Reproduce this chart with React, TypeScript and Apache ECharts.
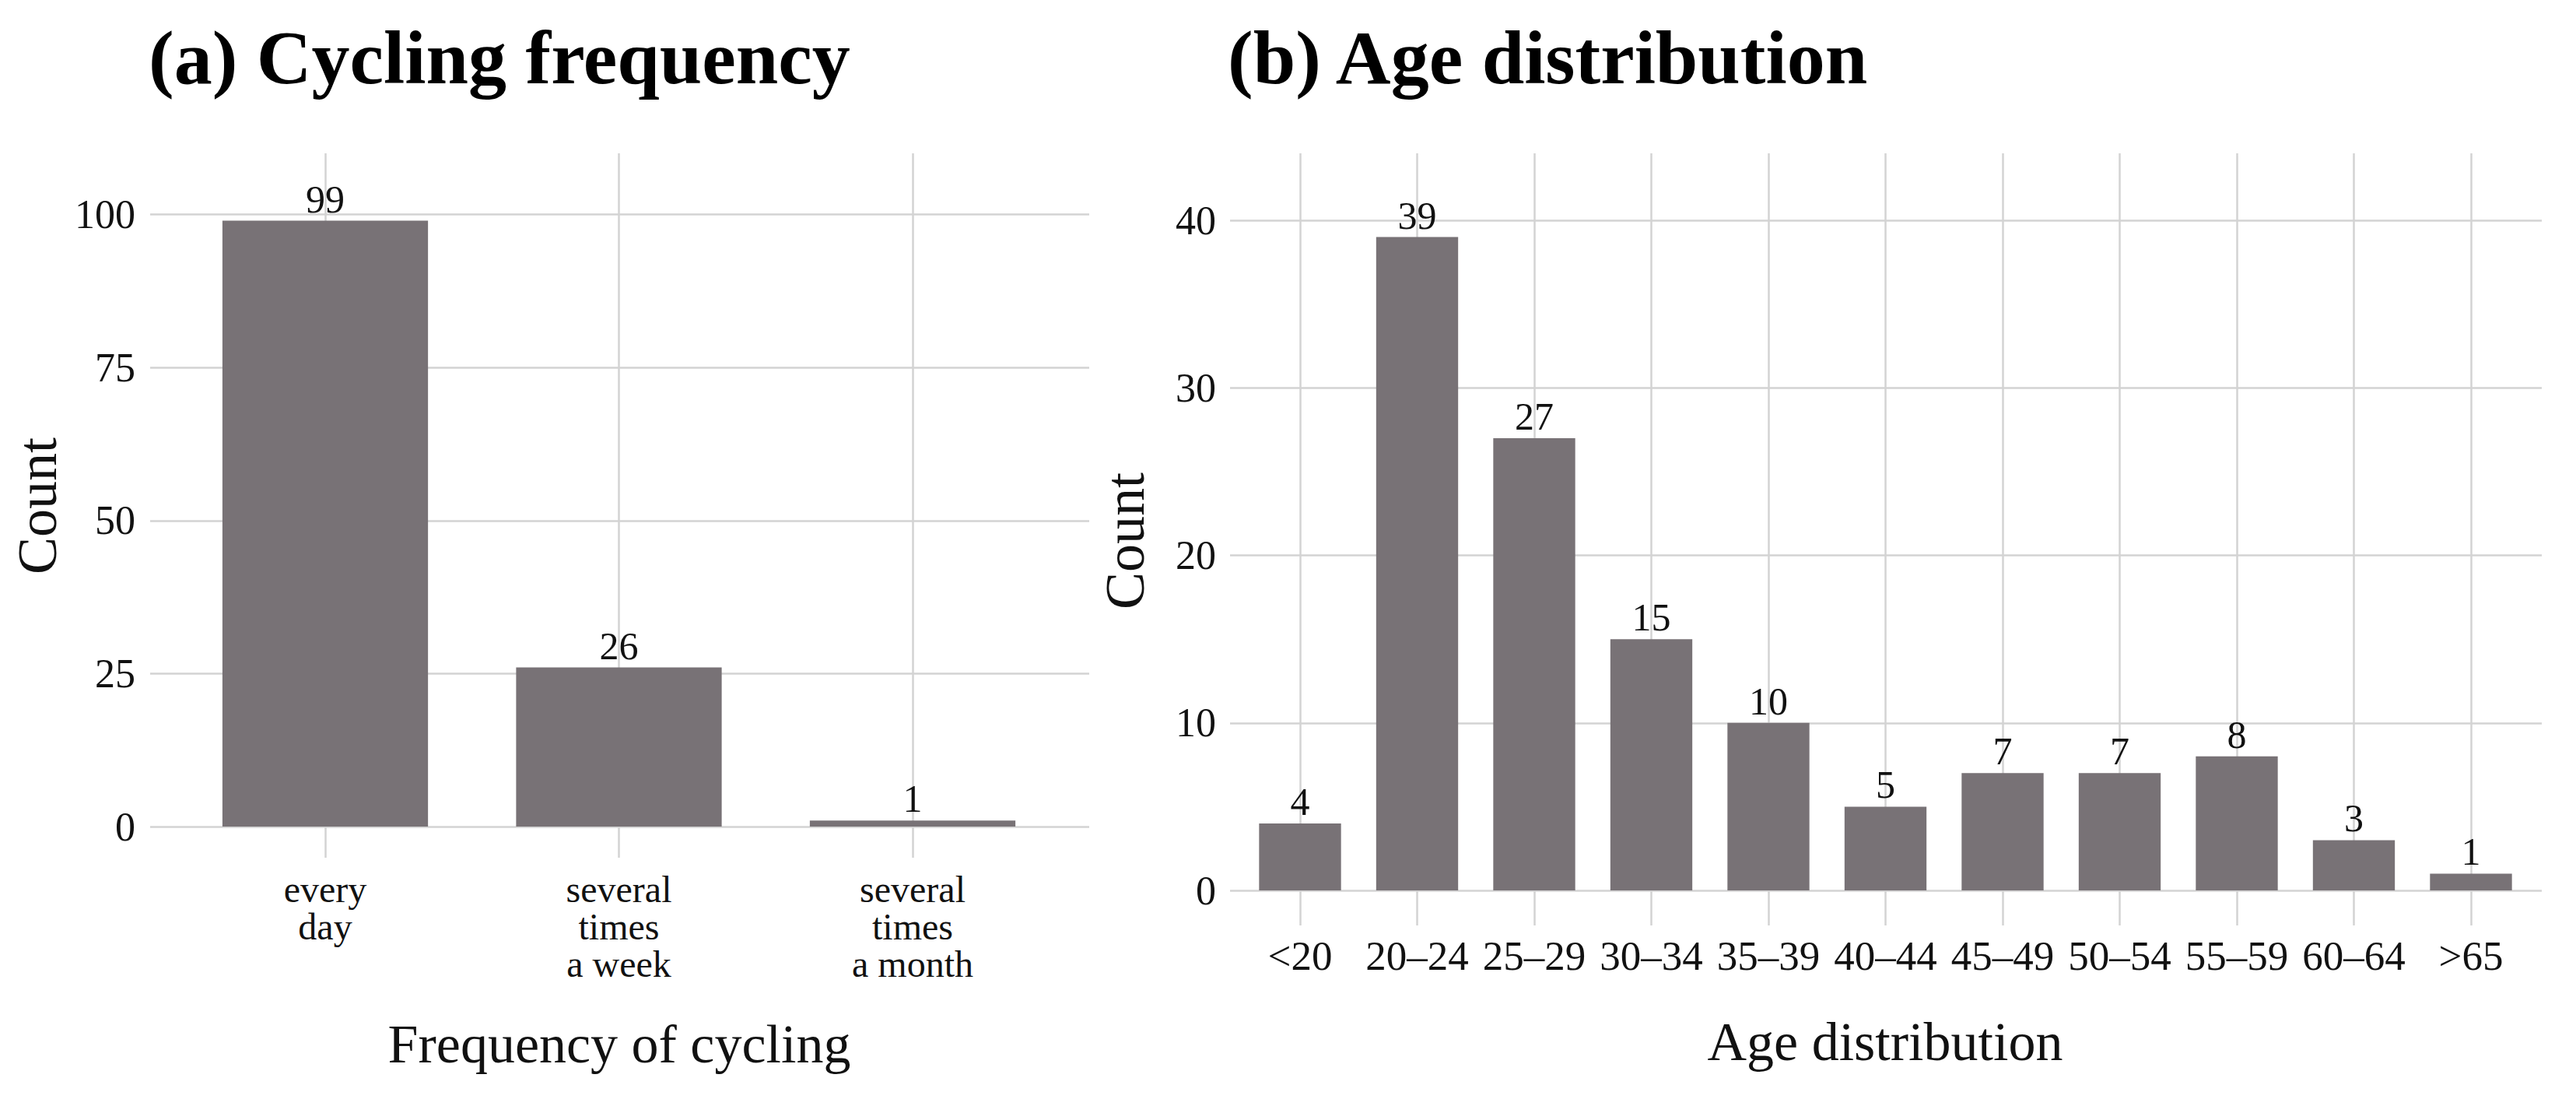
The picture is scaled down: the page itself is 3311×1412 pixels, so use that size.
import React, { useEffect, useRef } from 'react';
import * as echarts from 'echarts';

// ---- data ----
const freqCategories = ['every\nday', 'several\ntimes\na week', 'several\ntimes\na month'];
const freqCounts = [99, 26, 1];
const ageCategories = ['<20', '20–24', '25–29', '30–34', '35–39', '40–44', '45–49', '50–54', '55–59', '60–64', '>65'];
const ageCounts = [4, 39, 27, 15, 10, 5, 7, 7, 8, 3, 1];
const freqAxisMax = 110;
const freqTickStep = 25;
const ageAxisMax = 44;
const ageTickStep = 10;
const panelTitles = ['(a) Cycling frequency', '(b) Age distribution'];
const xTitles = ['Frequency of cycling', 'Age distribution'];
const yTitle = 'Count';

const FONT = '"Liberation Serif", "Times New Roman", serif';
const TEXT = '#111111';
const GRID = '#d3d3d3';
const BAR = '#787276';

export default function App() {
  const ref = useRef<HTMLDivElement>(null);

  useEffect(() => {
    if (!ref.current) return;
    const chart = echarts.init(ref.current, null, { renderer: 'svg' });

    const gridLine = { color: GRID, width: 2.5 };
    const valueLabel = { fontSize: 52, color: TEXT, fontFamily: FONT };

    const option: any = {
      animation: false,
      backgroundColor: '#ffffff',
      grid: [
        { left: 193, top: 197, width: 1207, height: 865 },
        { left: 418, top: 197, width: 755, height: 865 },
        { left: 1581, top: 197, width: 1686, height: 947 },
        { left: 1671, top: 197, width: 1505, height: 947 },
      ],
      xAxis: [
        { gridIndex: 0, type: 'value', min: 0, max: 1, show: false },
        {
          gridIndex: 1,
          type: 'category',
          data: freqCategories,
          boundaryGap: false,
          axisLine: { show: false },
          axisTick: { show: true, length: 40, interval: 0, lineStyle: gridLine },
          axisLabel: { ...valueLabel, fontSize: 48, lineHeight: 48, margin: 56, interval: 0 },
          splitLine: { show: true, interval: 0, lineStyle: gridLine },
        },
        { gridIndex: 2, type: 'value', min: 0, max: 1, show: false },
        {
          gridIndex: 3,
          type: 'category',
          data: ageCategories,
          boundaryGap: false,
          axisLine: { show: false },
          axisTick: { show: true, length: 45, interval: 0, lineStyle: gridLine },
          axisLabel: { ...valueLabel, fontSize: 53, lineHeight: 44, margin: 62, interval: 0 },
          splitLine: { show: true, interval: 0, lineStyle: gridLine },
        },
      ],
      yAxis: [
        {
          gridIndex: 0,
          type: 'value',
          min: 0,
          max: freqAxisMax,
          interval: freqTickStep,
          axisLine: { show: false },
          axisTick: { show: false },
          axisLabel: { ...valueLabel, margin: 19, showMaxLabel: false },
          splitLine: { show: true, showMaxLine: false, lineStyle: gridLine },
        },
        { gridIndex: 1, type: 'value', min: 0, max: freqAxisMax, show: false },
        {
          gridIndex: 2,
          type: 'value',
          min: 0,
          max: ageAxisMax,
          interval: ageTickStep,
          axisLine: { show: false },
          axisTick: { show: false },
          axisLabel: { ...valueLabel, margin: 18, showMaxLabel: false },
          splitLine: { show: true, showMaxLine: false, lineStyle: gridLine },
        },
        { gridIndex: 3, type: 'value', min: 0, max: ageAxisMax, show: false },
      ],
      series: [
        {
          type: 'bar',
          xAxisIndex: 1,
          yAxisIndex: 1,
          data: freqCounts,
          barWidth: '70%',
          clip: false,
          itemStyle: { color: BAR },
          label: { show: true, position: 'top', distance: 3, fontSize: 50, color: TEXT, fontFamily: FONT },
        },
        {
          type: 'bar',
          xAxisIndex: 3,
          yAxisIndex: 3,
          data: ageCounts,
          barWidth: '70%',
          clip: false,
          itemStyle: { color: BAR },
          label: { show: true, position: 'top', distance: 3, fontSize: 50, color: TEXT, fontFamily: FONT },
        },
      ],
      graphic: [
        {
          type: 'text', x: 191, y: 74,
          style: { text: panelTitles[0], font: `bold 98px ${FONT}`, fill: '#000', textAlign: 'left', textVerticalAlign: 'middle' },
        },
        {
          type: 'text', x: 1578, y: 74,
          style: { text: panelTitles[1], font: `bold 98px ${FONT}`, fill: '#000', textAlign: 'left', textVerticalAlign: 'middle' },
        },
        {
          type: 'text', x: 796, y: 1341,
          style: { text: xTitles[0], font: `70px ${FONT}`, fill: TEXT, textAlign: 'center', textVerticalAlign: 'middle' },
        },
        {
          type: 'text', x: 2423, y: 1338,
          style: { text: xTitles[1], font: `70px ${FONT}`, fill: TEXT, textAlign: 'center', textVerticalAlign: 'middle' },
        },
        {
          type: 'text', x: 48, y: 650, rotation: Math.PI / 2,
          style: { text: yTitle, font: `72px ${FONT}`, fill: TEXT, textAlign: 'center', textVerticalAlign: 'middle' },
        },
        {
          type: 'text', x: 1446, y: 695, rotation: Math.PI / 2,
          style: { text: yTitle, font: `72px ${FONT}`, fill: TEXT, textAlign: 'center', textVerticalAlign: 'middle' },
        },
      ],
    };

    chart.setOption(option);
    return () => chart.dispose();
  }, []);

  return (
    <div
      ref={ref}
      style={{ position: 'fixed', left: 0, top: 0, width: 3311, height: 1412, background: '#fff' }}
    />
  );
}
